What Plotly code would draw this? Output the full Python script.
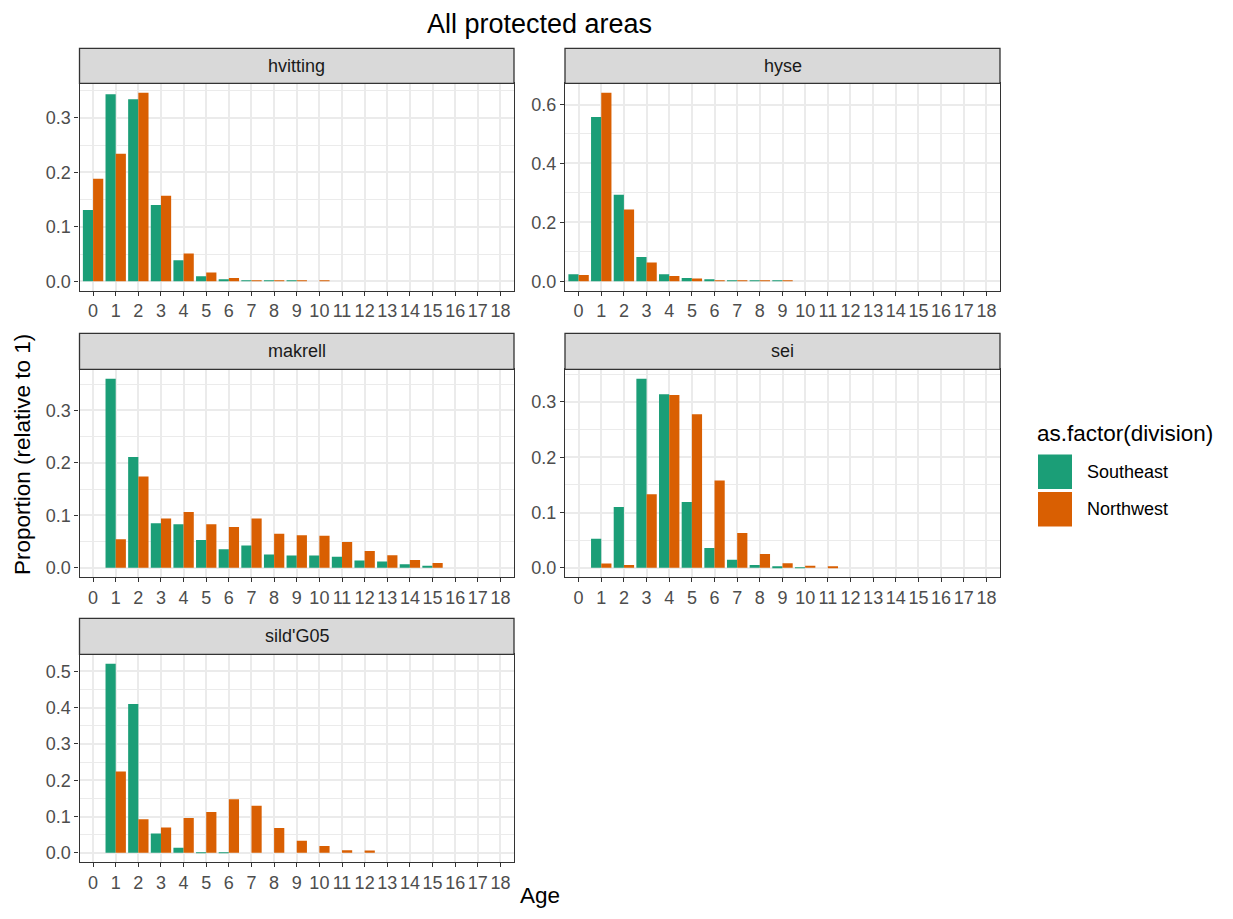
import plotly.graph_objects as go

# ---------------- data ----------------
ages = list(range(19))
tick_labels = [str(a) for a in ages]
divisions = ["Southeast", "Northwest"]
species = ["hvitting", "hyse", "makrell", "sei", "sild'G05"]

hvitting_se = [0.131, 0.343, 0.334, 0.140, 0.0385, 0.009, 0.0025, 0.0008, 0.0005, 0.0005, 0, 0, 0, 0, 0, 0, 0, 0, 0]
hvitting_nw = [0.188, 0.234, 0.346, 0.157, 0.051, 0.016, 0.006, 0.0015, 0.001, 0.001, 0.001, 0, 0, 0, 0, 0, 0, 0, 0]
hyse_se = [0.024, 0.558, 0.294, 0.082, 0.024, 0.011, 0.005, 0.001, 0.001, 0.001, 0, 0, 0, 0, 0, 0, 0, 0, 0]
hyse_nw = [0.021, 0.640, 0.244, 0.064, 0.018, 0.009, 0.003, 0.002, 0.002, 0.002, 0, 0, 0, 0, 0, 0, 0, 0, 0]
makrell_se = [0, 0.360, 0.211, 0.085, 0.083, 0.053, 0.0355, 0.0425, 0.0254, 0.0235, 0.0235, 0.021, 0.014, 0.012, 0.007, 0.004, 0, 0, 0]
makrell_nw = [0, 0.0545, 0.174, 0.094, 0.1065, 0.083, 0.078, 0.094, 0.065, 0.062, 0.061, 0.049, 0.032, 0.024, 0.015, 0.009, 0, 0, 0]
sei_se = [0, 0.0525, 0.110, 0.342, 0.314, 0.119, 0.036, 0.0145, 0.005, 0.0012, 0.0005, 0, 0, 0, 0, 0, 0, 0, 0]
sei_nw = [0, 0.008, 0.005, 0.133, 0.3125, 0.278, 0.158, 0.063, 0.025, 0.0085, 0.004, 0.001, 0, 0, 0, 0, 0, 0, 0]
sild_se = [0, 0.521, 0.410, 0.053, 0.0138, 0.001, 0.001, 0, 0, 0, 0, 0, 0, 0, 0, 0, 0, 0, 0]
sild_nw = [0, 0.224, 0.0927, 0.0697, 0.0963, 0.1128, 0.1477, 0.130, 0.0688, 0.033, 0.019, 0.0073, 0.0064, 0, 0, 0, 0, 0, 0]

series = {
    "hvitting": (hvitting_se, hvitting_nw),
    "hyse": (hyse_se, hyse_nw),
    "makrell": (makrell_se, makrell_nw),
    "sei": (sei_se, sei_nw),
    "sild'G05": (sild_se, sild_nw),
}
y_steps = {"hvitting": 0.1, "hyse": 0.2, "makrell": 0.1, "sei": 0.1, "sild'G05": 0.1}

# ---------------- style ----------------
# page has an 8px body margin: figure is drawn at (8, 8)
OFF = 8
W, H = 1233 - 2 * OFF, 919 - 2 * OFF
colors = {"Southeast": "#1B9E77", "Northwest": "#D95F02"}
FONT = "Liberation Sans, Arial, sans-serif"
TICK_FS = 18
STRIP_FS = 18

col_px = [(79.5, 514.0), (565.0, 1000.0)]
row_px = [(48.3, 83.3, 290.7), (333.3, 369.3, 577.3), (618.3, 654.3, 862.3)]  # strip top, plot top, plot bottom
positions = [(0, 0), (0, 1), (1, 0), (1, 1), (2, 0)]


def px_x(x):
    return (x - OFF) / W


def px_y(y):
    return 1 - (y - OFF) / H


fig = go.Figure()
shapes = []
annotations = []

for i, sp in enumerate(species):
    r, c = positions[i]
    xa = "x" if i == 0 else f"x{i+1}"
    ya = "y" if i == 0 else f"y{i+1}"
    se, nw = series[sp]
    for name, vals in zip(divisions, (se, nw)):
        fig.add_trace(go.Bar(
            x=ages, y=vals, name=name, xaxis=xa, yaxis=ya,
            marker=dict(color=colors[name], line=dict(width=0)),
            showlegend=False, offsetgroup=name,
        ))
    x0, x1 = col_px[c]
    st, sb, pb = row_px[r]
    ymax = max(max(se), max(nw))
    pad = 0.05 * ymax
    step = y_steps[sp]
    nt = int(ymax / step + 1e-9)
    ytv = [round(k * step, 3) for k in range(nt + 1)]
    layout_x = dict(
        domain=[px_x(x0), px_x(x1)], anchor=ya, range=[-0.6, 18.6],
        tickmode="array", tickvals=ages, ticktext=tick_labels, tickangle=0,
        showgrid=True, gridcolor="#EBEBEB", gridwidth=1.8, zeroline=False,
        showline=True, mirror=True, linecolor="#333333", linewidth=1.3,
        ticks="outside", ticklen=4, tickcolor="#333333", tickwidth=1.1,
        tickfont=dict(family=FONT, size=TICK_FS, color="#4D4D4D"),
    )
    layout_y = dict(
        domain=[px_y(pb), px_y(sb)], anchor=xa, range=[-pad, ymax + pad],
        tickmode="array", tickvals=ytv, ticktext=[f"{v:.1f}" for v in ytv],
        showgrid=True, gridcolor="#EBEBEB", gridwidth=1.8, zeroline=False,
        minor=dict(tickmode="linear", tick0=step / 2, dtick=step, showgrid=True,
                   gridcolor="#EBEBEB", gridwidth=0.9, ticks=""),
        showline=True, mirror=True, linecolor="#333333", linewidth=1.3,
        ticks="outside", ticklen=4, tickcolor="#333333", tickwidth=1.1,
        tickfont=dict(family=FONT, size=TICK_FS, color="#4D4D4D"),
    )
    fig.update_layout(**{("xaxis" if i == 0 else f"xaxis{i+1}"): layout_x,
                         ("yaxis" if i == 0 else f"yaxis{i+1}"): layout_y})
    # strip
    shapes.append(dict(type="rect", xref="paper", yref="paper",
                       x0=px_x(x0), x1=px_x(x1), y0=px_y(sb), y1=px_y(st),
                       fillcolor="#D9D9D9", line=dict(color="#333333", width=1.3), layer="above"))
    annotations.append(dict(xref="paper", yref="paper", x=px_x((x0 + x1) / 2), y=px_y((st + sb) / 2),
                            text=sp, showarrow=False, xanchor="center", yanchor="middle",
                            font=dict(family=FONT, size=STRIP_FS, color="#1A1A1A")))

# titles
annotations.append(dict(xref="paper", yref="paper", x=px_x(539.5), y=px_y(24), text="All protected areas",
                        showarrow=False, xanchor="center", yanchor="middle",
                        font=dict(family=FONT, size=27, color="black")))
annotations.append(dict(xref="paper", yref="paper", x=px_x(539.5), y=px_y(895), text="Age",
                        showarrow=False, xanchor="center", yanchor="middle",
                        font=dict(family=FONT, size=22.5, color="black")))
annotations.append(dict(xref="paper", yref="paper", x=px_x(22), y=px_y(455), text="Proportion (relative to 1)",
                        showarrow=False, xanchor="center", yanchor="middle", textangle=-90,
                        font=dict(family=FONT, size=22.5, color="black")))

# legend (manual, ggplot style keys)
annotations.append(dict(xref="paper", yref="paper", x=px_x(1035), y=px_y(433), text="as.factor(division)",
                        showarrow=False, xanchor="left", yanchor="middle",
                        font=dict(family=FONT, size=22.5, color="black")))
key_top = [454.5, 492.0]
for name, kt in zip(divisions, key_top):
    shapes.append(dict(type="rect", xref="paper", yref="paper",
                       x0=px_x(1038), x1=px_x(1072), y0=px_y(kt + 34.5), y1=px_y(kt),
                       fillcolor=colors[name], line=dict(width=0)))
    annotations.append(dict(xref="paper", yref="paper", x=px_x(1085), y=px_y(kt + 17.5), text=name,
                            showarrow=False, xanchor="left", yanchor="middle",
                            font=dict(family=FONT, size=18, color="black")))

fig.update_layout(
    width=W, height=H, margin=dict(l=0, r=0, t=0, b=0),
    paper_bgcolor="white", plot_bgcolor="white",
    barmode="group", bargap=0.1, bargroupgap=0,
    shapes=shapes, annotations=annotations, showlegend=False,
    font=dict(family=FONT),
)

fig.write_html("out.html")
